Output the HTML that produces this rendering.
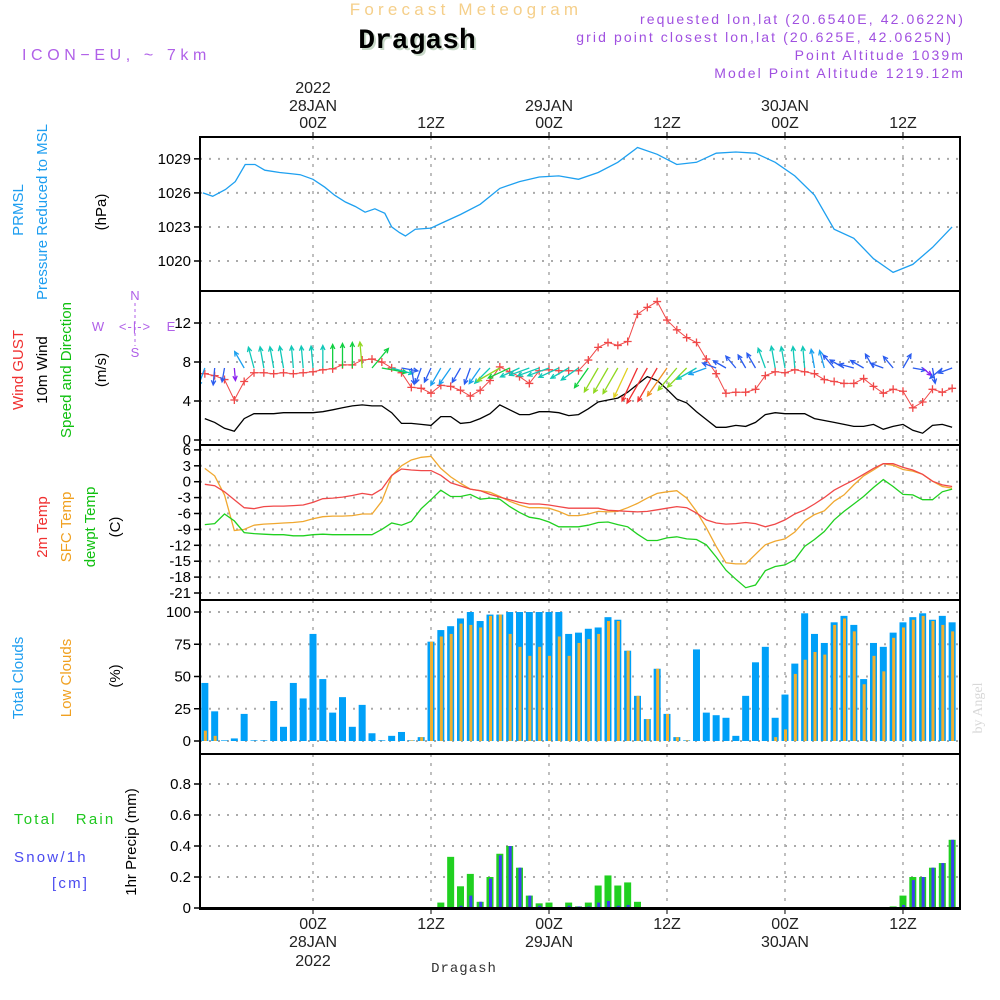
<!DOCTYPE html>
<html><head><meta charset="utf-8"><style>
html,body{margin:0;padding:0;background:#fff;width:1000px;height:1000px;overflow:hidden}
svg{display:block;font-family:"Liberation Sans",sans-serif}
</style></head><body>
<svg id="chart" width="1000" height="1000" viewBox="0 0 1000 1000" xmlns="http://www.w3.org/2000/svg">
<g id="hdr">
<text x="466" y="15" text-anchor="middle" font-size="17" letter-spacing="4.2" fill="#f5cf8a">Forecast Meteogram</text>
<text x="419" y="50" text-anchor="middle" font-family="Liberation Mono,monospace" font-weight="bold" font-size="28" fill="#c8d8c8">Dragash</text>
<text x="417" y="48" text-anchor="middle" font-family="Liberation Mono,monospace" font-weight="bold" font-size="28" fill="#000">Dragash</text>
<text x="22" y="60" font-size="16" letter-spacing="4.6" fill="#b060e8">ICON−EU, ~ 7km</text>
<g fill="#a050e0" font-size="14" letter-spacing="2.1" text-anchor="end">
<text x="965" y="24">requested lon,lat (20.6540E, 42.0622N)</text>
<text x="953" y="42">grid point closest lon,lat (20.625E, 42.0625N)</text>
<text x="965" y="60">Point Altitude 1039m</text>
<text x="965" y="78">Model Point Altitude 1219.12m</text>
</g>
</g>
<g id="grid"></g>
<g id="marks"></g>
<g id="axes"></g>
<g id="labels">
<g font-size="15">
<text transform="translate(23,210) rotate(-90)" text-anchor="middle" fill="#1e9ef0">PRMSL</text>
<text transform="translate(47,212) rotate(-90)" text-anchor="middle" fill="#1e9ef0">Pressure Reduced to MSL</text>
<text transform="translate(106,212) rotate(-90)" text-anchor="middle" fill="#000">(hPa)</text>
<text transform="translate(23,370) rotate(-90)" text-anchor="middle" fill="#f03030">Wind GUST</text>
<text transform="translate(47,370) rotate(-90)" text-anchor="middle" fill="#000">10m Wind</text>
<text transform="translate(71,370) rotate(-90)" text-anchor="middle" fill="#10c010">Speed and Direction</text>
<text transform="translate(106,370) rotate(-90)" text-anchor="middle" fill="#000">(m/s)</text>
<text transform="translate(47,527) rotate(-90)" text-anchor="middle" fill="#f03030">2m Temp</text>
<text transform="translate(71,527) rotate(-90)" text-anchor="middle" fill="#f0a020">SFC Temp</text>
<text transform="translate(95,527) rotate(-90)" text-anchor="middle" fill="#10c010">dewpt Temp</text>
<text transform="translate(120,527) rotate(-90)" text-anchor="middle" fill="#000">(C)</text>
<text transform="translate(23,678) rotate(-90)" text-anchor="middle" fill="#1e9ef0">Total Clouds</text>
<text transform="translate(71,678) rotate(-90)" text-anchor="middle" fill="#f0a020">Low Clouds</text>
<text transform="translate(120,676) rotate(-90)" text-anchor="middle" fill="#000">(%)</text>
<text transform="translate(136,842) rotate(-90)" text-anchor="middle" fill="#000">1hr Precip (mm)</text>
</g>
<g font-size="15" letter-spacing="2.2">
<text x="14" y="824" fill="#20c820" xml:space="preserve">Total   Rain</text>
<text x="14" y="862" fill="#4a4af0">Snow/1h</text>
<text x="52" y="888" fill="#4a4af0">[cm]</text>
</g>
<g fill="#b060e8" font-size="13" stroke="none">
<text x="135" y="300" text-anchor="middle">N</text>
<text x="135" y="357" text-anchor="middle">S</text>
<text x="98" y="331" text-anchor="middle">W</text>
<text x="171" y="331" text-anchor="middle">E</text>
<text x="135" y="331" text-anchor="middle" font-size="13" letter-spacing="1">&lt;-|-&gt;</text>
<line x1="135" y1="303" x2="135" y2="346" stroke="#b060e8" stroke-dasharray="3,3"/>
</g>
<text transform="translate(982,708) rotate(-90)" text-anchor="middle" font-family="Liberation Serif,serif" font-size="14" fill="#d8d8d8">by Angel</text>
<text x="464" y="972" text-anchor="middle" font-family="Liberation Mono,monospace" font-size="14" letter-spacing="1" fill="#333">Dragash</text>
</g>
</svg>
<script>
// ---- data ----
const startHour = -11;
const pressHours = [-11.2,-10.2,-8.9,-7.9,-6.9,-5.9,-4.9,-3.4,-2.3,-1.3,0,1.2,2.2,3.3,4.3,5.3,6.3,7.3,8,8.8,9.4,10.4,12,13,15,17,19,21,23,25,27,29,31,33,35,37,39,41,43,45,47,49,51,53,55,57,59,61,63,65];
const pressure = [1026.0,1025.7,1026.3,1027.0,1028.5,1028.5,1028.0,1027.8,1027.7,1027.6,1027.2,1026.5,1025.8,1025.2,1024.8,1024.3,1024.6,1024.2,1023.0,1022.5,1022.2,1022.8,1022.9,1023.3,1024.1,1025,1026.4,1027,1027.4,1027.5,1027.2,1027.8,1028.7,1030,1029.4,1028.5,1028.7,1029.5,1029.6,1029.5,1028.7,1027.5,1025.8,1022.8,1022,1020.2,1019,1019.7,1021.2,1023];
const wind10 = [2.2,1.8,1.2,0.9,2.2,2.7,2.7,2.7,2.8,2.8,2.8,2.8,2.9,3.1,3.3,3.5,3.6,3.5,3.5,2.8,1.7,1.7,1.6,1.5,2.4,2.4,1.7,1.8,2.2,2.7,3.6,3.1,2.6,2.6,2.9,2.9,2.8,2.5,2.6,3.2,3.9,4.1,4.3,4.9,5.7,6.5,6.1,5.2,4.2,3.8,2.9,2.1,1.3,1.3,1.5,1.4,1.8,2.6,2.8,2.7,2.7,2.7,2.2,2.0,1.8,1.6,1.4,1.4,1.6,1.1,1.4,1.6,1.0,0.7,1.5,1.6,1.3];
const gust = [6.8,6.6,6.2,4.1,6.0,6.9,6.9,6.8,6.9,6.8,6.9,7.0,7.2,7.3,7.7,7.7,8.2,8.3,8.0,7.4,6.9,5.4,5.3,4.8,5.6,5.5,5.1,4.5,5.1,6.1,7.5,7.0,6.5,5.8,7.1,7.2,7.1,7.1,7.1,8.2,9.5,10.0,9.7,10.1,12.9,13.6,14.2,12.3,11.3,10.5,10.0,8.3,6.8,4.8,4.9,4.9,5.2,6.6,7.0,6.9,7.2,7.0,6.8,6.2,6.0,5.8,5.8,6.3,5.5,4.8,5.2,5.0,3.3,3.9,5.2,4.9,5.3];
const windDir = [200,185,190,175,330,345,350,350,350,355,355,355,0,0,0,0,355,40,100,105,100,170,200,205,210,215,210,200,215,225,240,245,245,250,250,250,245,240,235,215,210,210,210,205,205,210,210,215,220,225,240,250,290,300,320,330,330,340,350,350,355,355,350,345,320,300,285,300,330,290,320,30,100,130,170,230,250];
const temp2m = [-0.5,-0.75,-1.9,-3.4,-4.9,-5.1,-4.7,-4.6,-4.6,-4.5,-4.4,-3.9,-3.2,-3.1,-2.9,-2.6,-2.2,-2.5,-1.4,1.2,2.4,2.2,2.1,2.1,1.2,-0.2,-0.8,-1.4,-1.7,-2.4,-2.9,-3.4,-3.9,-4.2,-4.2,-4.4,-4.7,-5.0,-5.0,-5.0,-5.0,-5.4,-5.5,-5.6,-5.7,-5.6,-5.3,-5.0,-4.7,-4.9,-5.9,-7.2,-7.8,-8.0,-7.9,-7.7,-7.9,-8.5,-8.0,-7.2,-6.1,-5.3,-4.2,-3.0,-1.6,-0.6,0.3,1.4,2.5,3.4,3.4,2.7,2.2,1.4,0.1,-0.6,-0.9];
const sfcTemp = [2.5,1.1,-2.5,-9.2,-9.0,-8.2,-8.0,-7.9,-7.8,-7.7,-7.5,-7.0,-6.6,-6.5,-6.5,-6.4,-6.1,-6.1,-3.7,1.1,3.0,4.1,4.6,4.8,2.5,0.9,-0.3,-1.4,-1.7,-2.0,-2.8,-3.7,-4.4,-4.9,-4.9,-5.0,-5.6,-6.4,-6.4,-6.1,-5.6,-5.7,-5.6,-4.9,-4.1,-3.1,-2.2,-1.9,-1.7,-3.1,-5.6,-8.7,-12.2,-15.3,-15.5,-15.5,-13.7,-11.9,-11.2,-10.8,-9.5,-7.4,-6.2,-5.5,-3.7,-2.5,-0.6,1.1,2.2,3.4,3.1,2.3,2.0,1.4,0.1,-0.9,-1.2];
const dewpt = [-8.1,-7.9,-6.1,-7.4,-9.6,-9.8,-9.9,-10.0,-10.0,-10.2,-10.2,-10.0,-9.9,-10.0,-10.0,-10.0,-10.0,-10.0,-9.0,-7.8,-8.2,-7.5,-5.1,-3.4,-1.6,-2.8,-2.8,-2.4,-3.3,-3.1,-3.3,-4.7,-5.8,-6.7,-7.0,-7.6,-8.5,-8.5,-8.5,-8.2,-7.7,-7.6,-8.1,-8.5,-9.9,-11.1,-11.1,-10.6,-10.4,-10.8,-10.9,-11.9,-14.2,-16.7,-18.4,-20.0,-19.5,-16.8,-16.0,-15.7,-14.7,-12.2,-10.9,-9.4,-7.2,-5.6,-4.2,-2.8,-1.1,0.4,-0.9,-2.4,-2.5,-3.4,-3.4,-1.9,-1.4];
const totalCloud = [45,23,0.5,2,21,0.5,0.5,31,11,45,33,83,48,22,34,11,28,6,0.5,4,7,0.5,3,77,86,89,95,100,93,98,98,100,100,100,100,100,100,83,84,87,88,96,94,70,35,17,56,21,3,0.5,71,22,20,18,4,35,61,73,18,36,60,99,83,76,92,97,90,48,76,73,84,92,96,99,94,97,92];
const lowCloud = [8,4,0,0,0,0,0,0,0,0,0,0,0,0,0,0,0,0,0,0,0,0.5,3,77,81,83,91,90,88,97,98,83,73,66,73,66,81,66,76,79,83,93,93,70,35,17,56,21,3,0.5,0,0,0,0,0,0,0,0,3,9,52,63,69,67,90,95,85,44,66,54,80,88,94,97,93,90,85];
const rain = [0,0,0,0,0,0,0,0,0,0,0,0,0,0,0,0,0,0,0,0,0,0,0,0,0.035,0.33,0.14,0.22,0.04,0.2,0.35,0.40,0.26,0.08,0.03,0.035,0,0.035,0.01,0.035,0.145,0.21,0.145,0.165,0.04,0,0,0,0,0,0,0,0,0,0,0,0,0,0,0,0,0,0,0,0,0,0,0,0,0,0.01,0.08,0.2,0.2,0.26,0.29,0.44];
const snow = [0,0,0,0,0,0,0,0,0,0,0,0,0,0,0,0,0,0,0,0,0,0,0,0,0,0.004,0.015,0.08,0.04,0.19,0.34,0.40,0.26,0.08,0.015,0,0,0.015,0.01,0.01,0.035,0.045,0.015,0.02,0.004,0,0,0,0,0,0,0,0,0,0,0,0,0,0,0,0,0,0,0,0,0,0,0,0,0,0,0.02,0.18,0.2,0.26,0.29,0.44];
const pressTicks = [1020,1023,1026,1029];
const windTicks = [0,4,8,12];
const tempTicks = [6,3,0,-3,-6,-9,-12,-15,-18,-21];
const cloudTicks = [0,25,50,75,100];
const precipTicks = [0,0.2,0.4,0.6,0.8];
const timeTickHours = [0,12,24,36,48,60];
const timeTickLabels = ["00Z","12Z","00Z","12Z","00Z","12Z"];
const dayLabels = ["28JAN","","29JAN","","30JAN",""];
const yearLabels = ["2022","","","","",""];

// ---- scales ----
const X0=200, X1=960;
const xs = h => 313 + h*9.833;
const yP = v => 261 - (v-1020)*11.35;
const yW = v => 440 - v*9.75;
const yT = v => 481.7 - v*5.3;
const yC = v => 741 - v*1.29;
const yR = v => 908 - v*155;
const panels = [{y0:137,y1:291,f:yP,t:pressTicks,n:'pressure'},{y0:291,y1:445,f:yW,t:windTicks,n:'wind'},{y0:445,y1:600,f:yT,t:tempTicks,n:'temp'},{y0:600,y1:754,f:yC,t:cloudTicks,n:'cloud'},{y0:754,y1:909,f:yR,t:precipTicks,n:'precip'}];

const NS='http://www.w3.org/2000/svg';
function mk(tag, parent, attrs){const e=document.createElementNS(NS,tag);for(const k in attrs)e.setAttribute(k,attrs[k]);parent.appendChild(e);return e;}
const grid=document.getElementById('grid'), marks=document.getElementById('marks'), axes=document.getElementById('axes');

const defs=mk('defs',document.getElementById('chart'),{});
const cp=mk('clipPath',defs,{id:'plotclip'});
mk('rect',cp,{x:X0,y:137,width:X1-X0,height:772});
marks.setAttribute('clip-path','url(#plotclip)');

panels.forEach(p=>{
  p.t.forEach(v=>{
    const y=p.f(v);
    const gl=mk('line',grid,{x1:X0,x2:X1,y1:y,y2:y,stroke:'#aaa','stroke-width':2,'stroke-dasharray':'2,7'});
    
    
    const tk=mk('line',axes,{x1:X0-6,x2:X0,y1:y,y2:y,stroke:'#000','stroke-width':1.5});
    
    
    const tl=mk('text',axes,{x:X0-9,y:y+5,'text-anchor':'end','font-size':15,fill:'#000'});
    tl.textContent=String(v);
    
    
  });
  timeTickHours.forEach(h=>{
    const gl=mk('line',grid,{x1:xs(h),x2:xs(h),y1:p.y0,y2:p.y1,stroke:'#aaa','stroke-width':1.5,'stroke-dasharray':'3,6'});
    
    
  });
  const r=mk('rect',axes,{x:X0,y:p.y0,width:X1-X0,height:p.y1-p.y0,fill:'none',stroke:'#000','stroke-width':2});
  
  
});
timeTickHours.forEach((h,i)=>{
  const x=xs(h);
  mk('line',axes,{x1:x,x2:x,y1:132,y2:137,stroke:'#000'});
  mk('line',axes,{x1:x,x2:x,y1:909,y2:914,stroke:'#000'});
  const a=mk('text',axes,{x:x,y:128,'text-anchor':'middle','font-size':16,fill:'#222'});a.textContent=timeTickLabels[i];
  
  
  const b=mk('text',axes,{x:x,y:929,'text-anchor':'middle','font-size':16,fill:'#222'});b.textContent=timeTickLabels[i];
  
  
  if(dayLabels[i]){
    const c=mk('text',axes,{x:x,y:111,'text-anchor':'middle','font-size':16,fill:'#222'});c.textContent=dayLabels[i];
    
    
    const d=mk('text',axes,{x:x,y:947,'text-anchor':'middle','font-size':16,fill:'#222'});d.textContent=dayLabels[i];
    
    
  }
  if(yearLabels[i]){
    const c=mk('text',axes,{x:x,y:93,'text-anchor':'middle','font-size':16,fill:'#222'});c.textContent=yearLabels[i];
    
    
    const d=mk('text',axes,{x:x,y:966,'text-anchor':'middle','font-size':16,fill:'#222'});d.textContent=yearLabels[i];
    
    
  }
});

function line(vals, hoursFn, yf, color, name, w){
  const pts=vals.map((v,i)=>xs(hoursFn(i)).toFixed(1)+','+yf(v).toFixed(1)).join(' ');
  const pl=mk('polyline',marks,{points:pts,fill:'none',stroke:color,'stroke-width':w||1.3});
  
  
}
const hr = i => startHour + i;

line(pressure, i=>pressHours[i], yP, '#1ea0f0', 'pressure-line', 1.3);

line(wind10, hr, yW, '#000', 'wind10m-line', 1.3);
line(gust, hr, yW, '#f04848', 'gust-line', 1);
gust.forEach((v,i)=>{
  const x=xs(hr(i)), y=yW(v);
  const g=mk('path',marks,{d:`M${x-4},${y}h8M${x},${y-4}v8`,stroke:'#f04848','stroke-width':1.3});
  
  
});
function wcol(s){
  if(s<1) return '#8a20f0'; if(s<1.9) return '#2a5cf0'; if(s<2.5) return '#1aa0f0';
  if(s<3.0) return '#10c8b8'; if(s<3.6) return '#10d040'; if(s<4.4) return '#90d820';
  if(s<5.0) return '#e0d020'; if(s<5.6) return '#f09020'; return '#f03030';
}
windDir.forEach((d,i)=>{
  const s=wind10[i], L=8+s*5, a=d*Math.PI/180;
  const x=xs(hr(i)), y=368;
  const x2=x+L*Math.sin(a), y2=y-L*Math.cos(a);
  const h1=a+Math.PI-0.45, h2=a+Math.PI+0.45;
  const c=wcol(s);
  const p=mk('path',marks,{d:`M${x},${y}L${x2},${y2}M${x2+5*Math.sin(h1)},${y2-5*Math.cos(h1)}L${x2},${y2}L${x2+5*Math.sin(h2)},${y2-5*Math.cos(h2)}`,stroke:c,'stroke-width':1.3,fill:'none'});
  
  
});

line(sfcTemp, hr, yT, '#f0a830', 'sfc-temp-line', 1.3);
line(temp2m, hr, yT, '#f04848', 'temp2m-line', 1.3);
line(dewpt, hr, yT, '#20d020', 'dewpt-line', 1.3);

totalCloud.forEach((v,i)=>{
  const x=xs(hr(i));
  const b=mk('rect',marks,{x:x-3.5,y:yC(v),width:7,height:741-yC(v),fill:'#00a0f8'});
  
  
  const lv=lowCloud[i];
  const c=mk('rect',marks,{x:x-1,y:yC(lv),width:3,height:741-yC(lv),fill:'#f0b030'});
  
  
});

rain.forEach((v,i)=>{
  const x=xs(hr(i));
  if(v>0){
    const b=mk('rect',marks,{x:x-3.5,y:yR(v),width:7,height:908-yR(v),fill:'#20d020'});
    
    
  }
  const sv=snow[i];
  if(sv>0){
    const c=mk('rect',marks,{x:x-1,y:yR(sv),width:3,height:908-yR(sv),fill:'#3a40f0'});
    
    
  }
});
mk('line',marks,{x1:X0,x2:X1,y1:908,y2:908,stroke:'#000','stroke-width':2});
</script>
</body></html>
